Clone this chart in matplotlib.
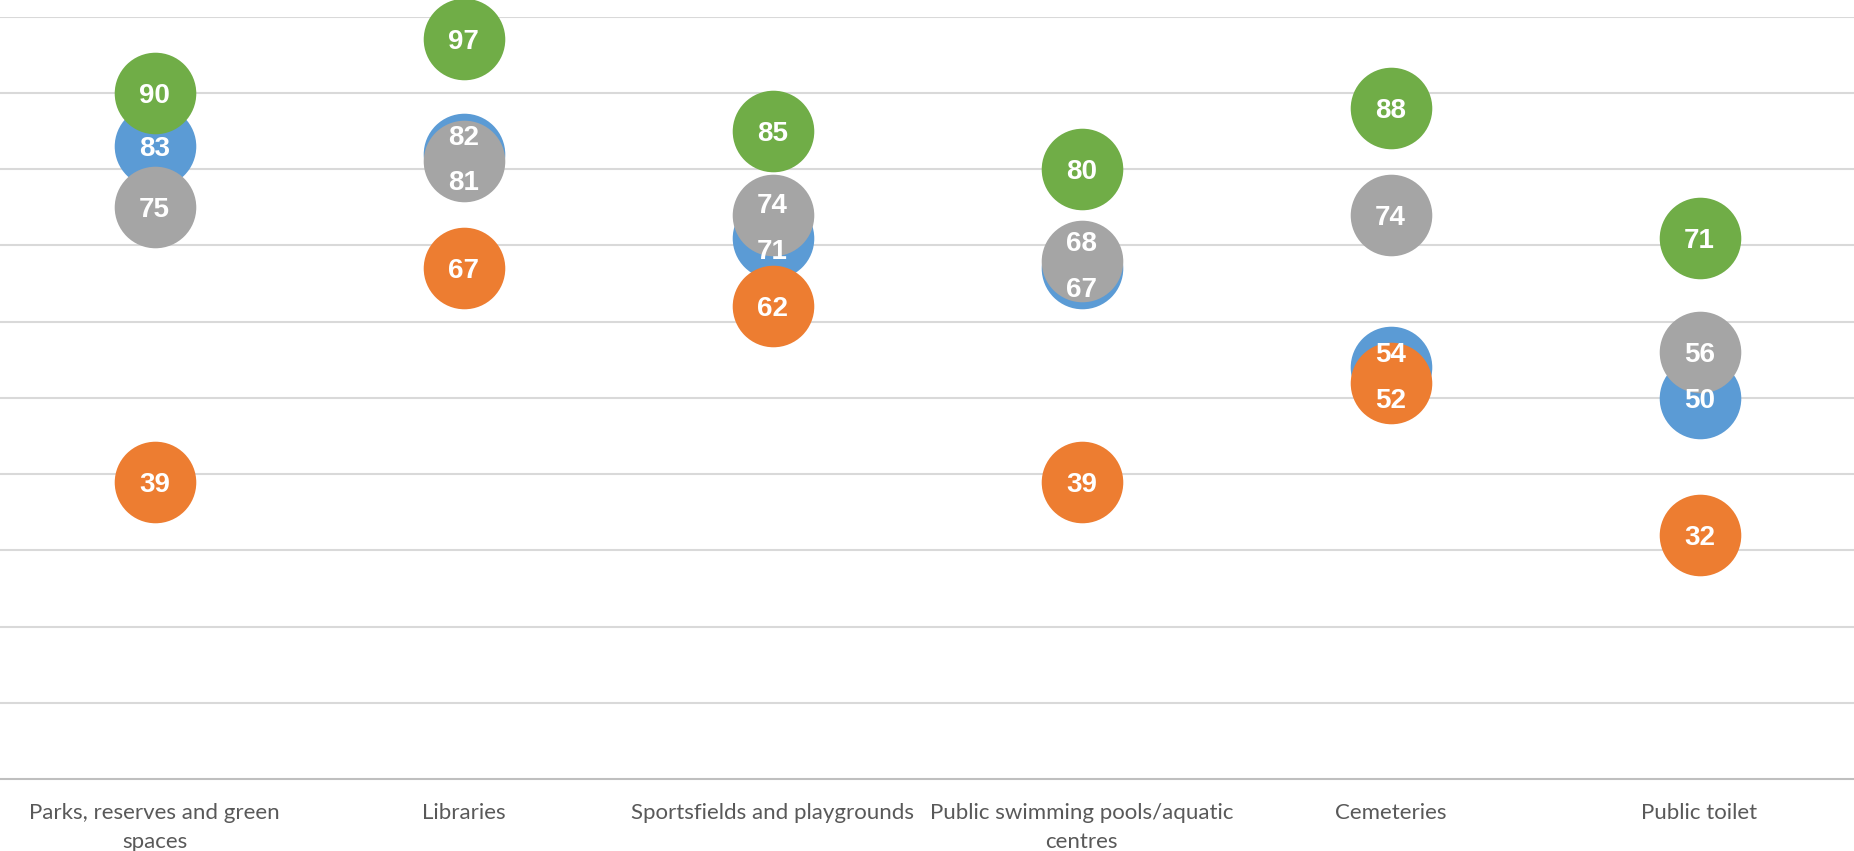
import numpy as np
import matplotlib.pyplot as plt

categories = ['Parks, reserves and green\nspaces', 'Libraries', 'Sportsfields and playgrounds',
              'Public swimming pools/aquatic\ncentres', 'Cemeteries', 'Public toilet']
blue = [83, 82, 71, 67, 54, 50]
orange = [39, 67, 62, 39, 52, 32]
gray = [75, 81, 74, 68, 74, 56]
green = [90, 97, 85, 80, 88, 71]

series = [blue, orange, gray, green]
colors = ['#5B9BD5', '#ED7D31', '#A5A5A5', '#70AD47']

fig = plt.figure(figsize=(18.54, 8.51), dpi=100)
ax = fig.add_axes([0, 0.0846, 1, 0.8960])

x = np.arange(len(categories))
for vals, c in zip(series, colors):
    ax.scatter(x, vals, s=3450, color=c, linewidths=0, zorder=3, clip_on=False)

# push overlapping labels apart a little, like Excel does
min_gap = 6.0
for i in range(len(categories)):
    vals = [s[i] for s in series]
    order = sorted(range(len(vals)), key=lambda k: vals[k])
    ypos = {k: float(vals[k]) for k in order}
    for a, b in zip(order[:-1], order[1:]):
        gap = ypos[b] - ypos[a]
        if gap < min_gap:
            d = (min_gap - gap) / 2
            ypos[a] -= d
            ypos[b] += d
    for k in order:
        ax.text(x[i], ypos[k], str(vals[k]), ha='center', va='center_baseline', color='white',
                fontsize=20, fontweight='bold', family='Liberation Sans', zorder=5, clip_on=False)

ax.set_xlim(-0.5, len(categories) - 0.5)
ax.set_ylim(0, 100)
ax.set_yticks(np.arange(10, 101, 10))
ax.yaxis.grid(True, color='#D9D9D9', linewidth=1.5)
ax.set_axisbelow(True)
ax.tick_params(axis='y', left=False, labelleft=False)
ax.tick_params(axis='x', bottom=False, pad=14)
ax.set_xticks(x)
ax.set_xticklabels(categories, fontsize=16, color='#595959', family='Lato', linespacing=1.55)
for side in ['top', 'left', 'right']:
    ax.spines[side].set_visible(False)
ax.spines['bottom'].set_color('#BFBFBF')
ax.spines['bottom'].set_linewidth(1.5)

fig.savefig('out.png', dpi=100)
